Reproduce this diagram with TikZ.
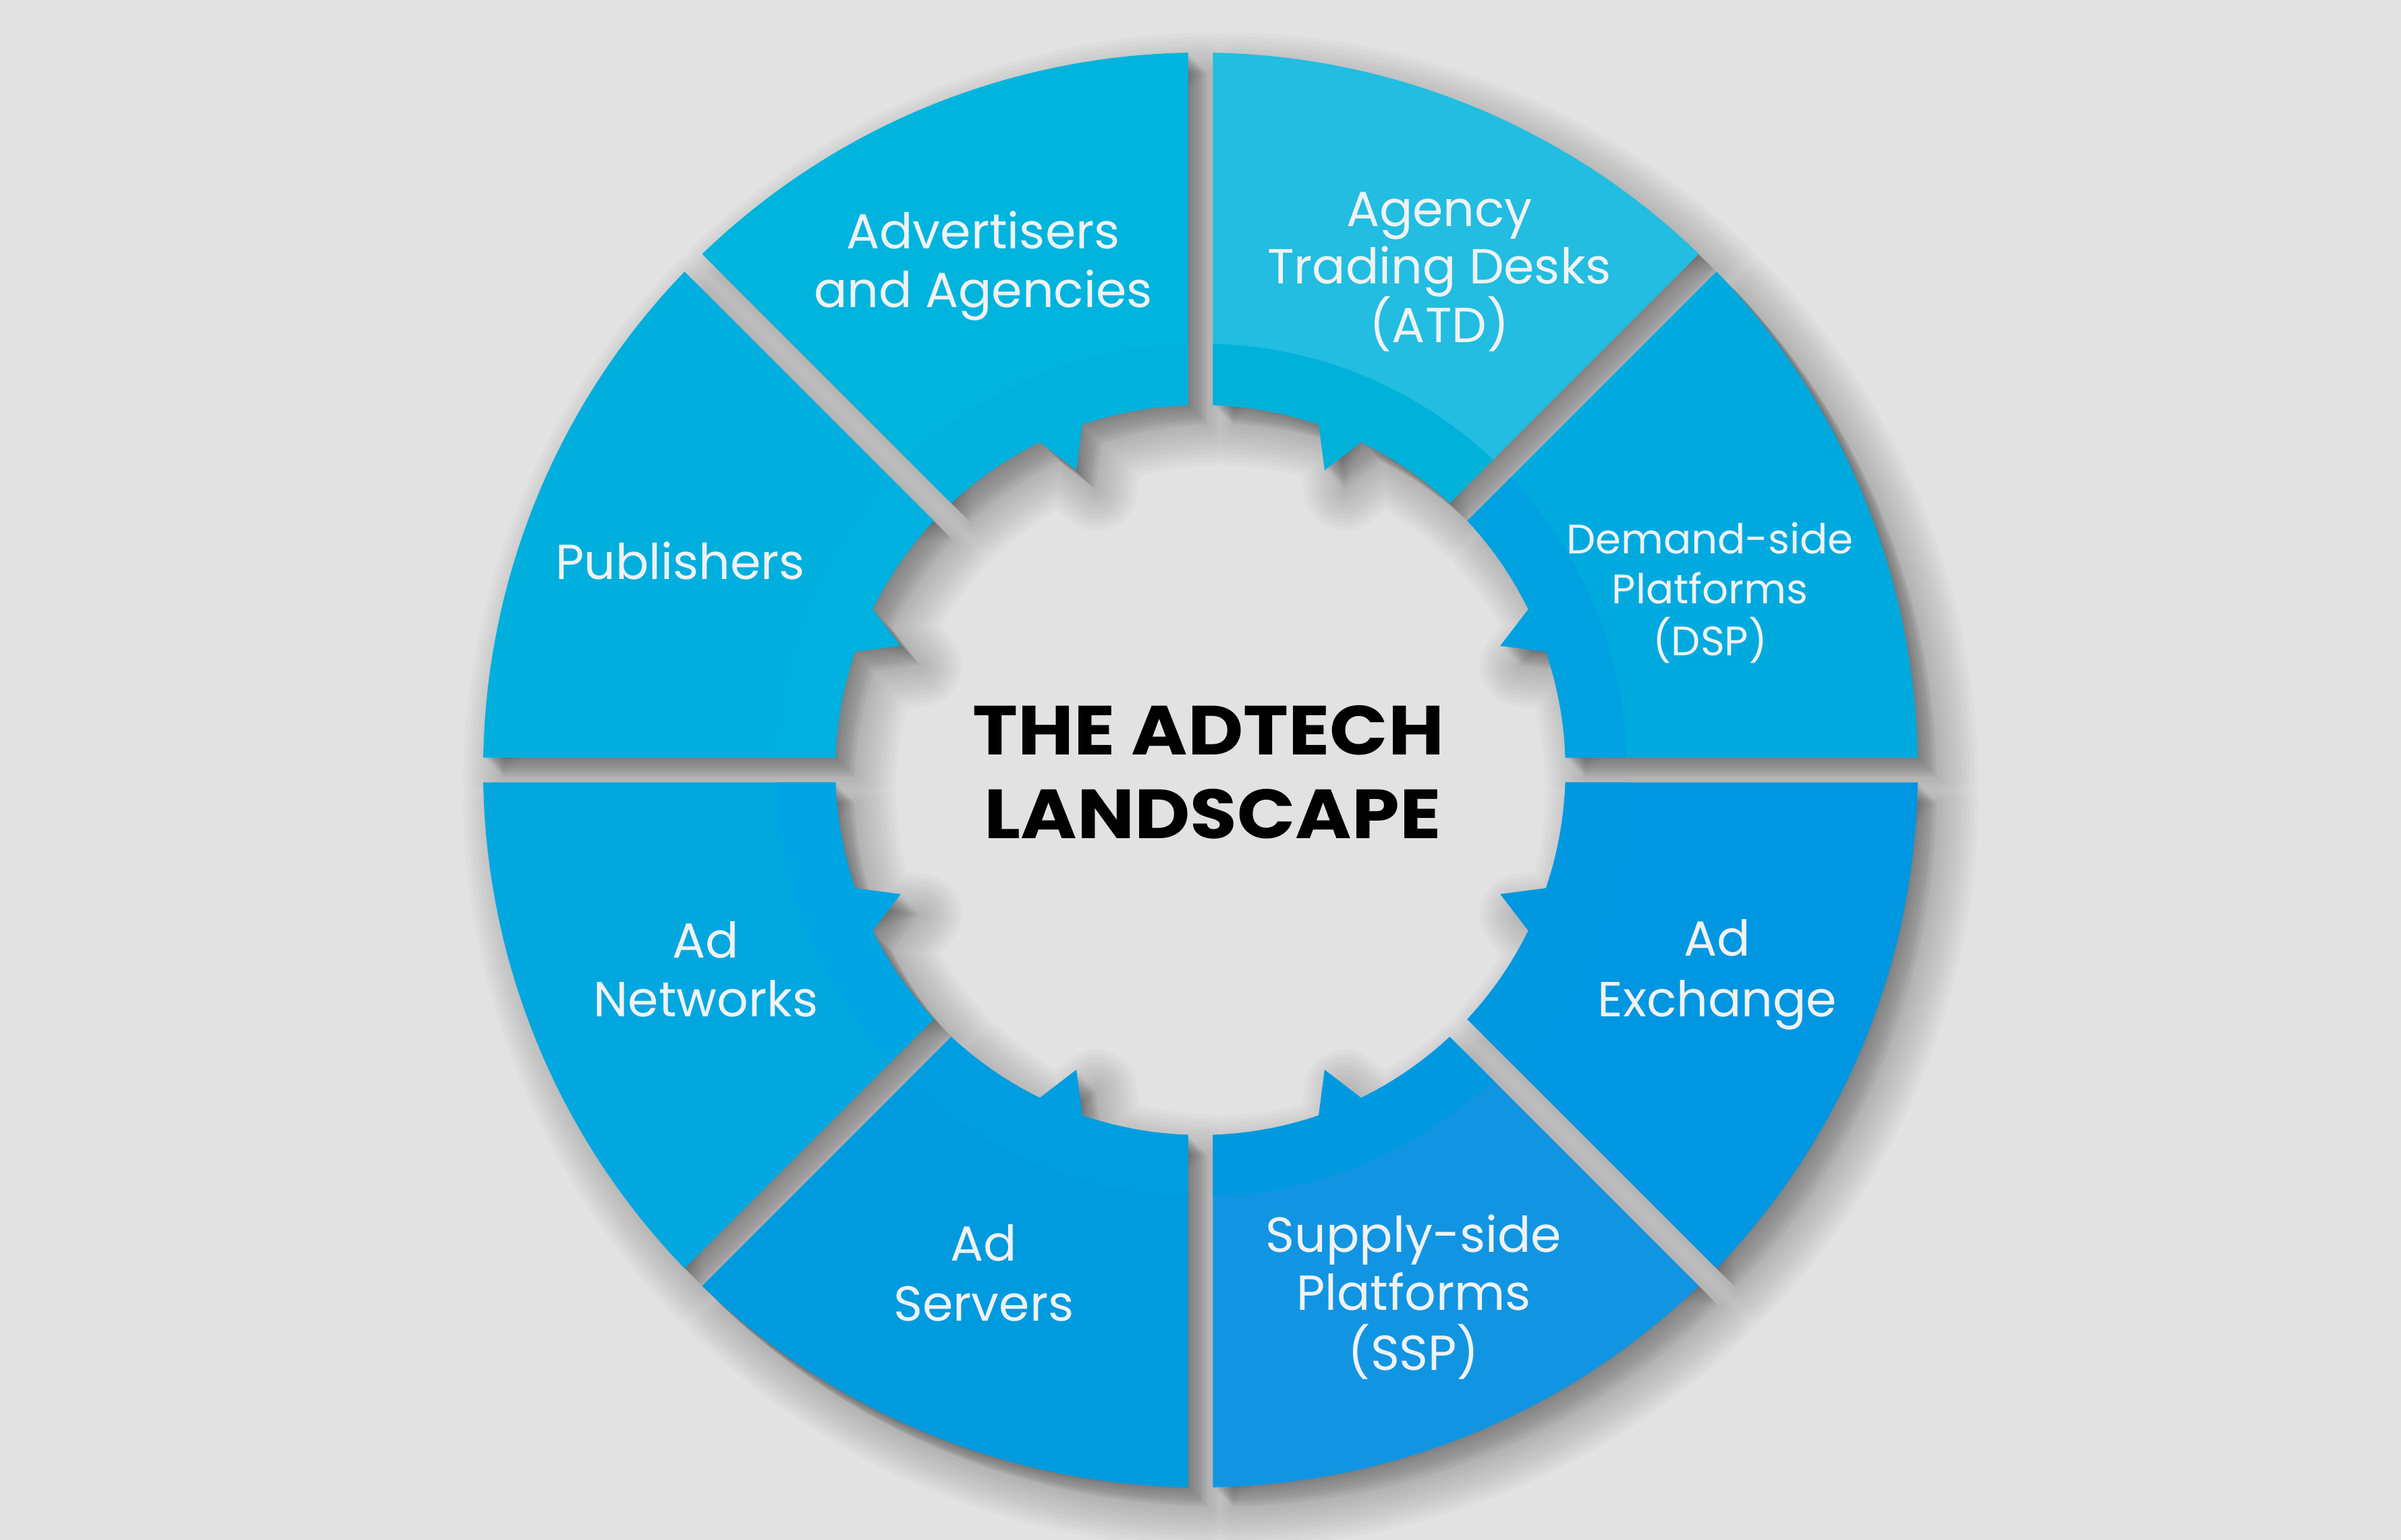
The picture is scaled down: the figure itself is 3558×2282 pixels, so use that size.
\documentclass[tikz,border=0pt]{standalone}
\usepackage{fontspec}
\setmainfont{Poppins}
\newfontfamily\ttlfont[FakeStretch=1.1]{Poppins}
\definecolor{bg}{HTML}{E2E2E2}
\definecolor{labc}{HTML}{F0F2F3}
\definecolor{cAdv}{HTML}{00B4DE}\definecolor{bAdv}{HTML}{00B1DE}
\definecolor{cAtd}{HTML}{22BDE0}\definecolor{bAtd}{HTML}{00B1D9}
\definecolor{cDsp}{HTML}{00AADF}\definecolor{bDsp}{HTML}{00A1E0}
\definecolor{cExc}{HTML}{0096E1}\definecolor{bExc}{HTML}{0098E1}
\definecolor{cSsp}{HTML}{1195E2}\definecolor{bSsp}{HTML}{0099E0}
\definecolor{cSrv}{HTML}{009ADF}\definecolor{bSrv}{HTML}{009DE0}
\definecolor{cNet}{HTML}{02A7DF}\definecolor{bNet}{HTML}{00A5E3}
\definecolor{cPub}{HTML}{00AFDD}\definecolor{bPub}{HTML}{00B0DE}
% one ring sector between angles #1 and #2, with its inner tooth
\newcommand\secpath[2]{({#1+1.96}:541) -- ({#1+0.997}:1063)
  arc[start angle={#1+0.997}, end angle={#2-0.997}, radius=1063]
  -- ({#2-1.96}:541)
  arc[start angle={#2-1.96}, end angle={(#1+#2)/2+3.6}, radius=541]
  -- ({(#1+#2)/2}:481) -- ({(#1+#2)/2-3.6}:541)
  arc[start angle={(#1+#2)/2-3.6}, end angle={#1+1.96}, radius=541] -- cycle}
\newcommand\allsec{\secpath{0}{45} \secpath{45}{90} \secpath{90}{135}
  \secpath{135}{180} \secpath{180}{225} \secpath{225}{270}
  \secpath{270}{315} \secpath{315}{360}}
\newcommand\ringsector[4]{%
  \begin{scope}
    \clip \secpath{#1}{#2};
    \fill[#3] (0,0) circle[radius=1100];
    \fill[#4] (0,0) circle[radius=632];
  \end{scope}}
\tikzset{
  lab/.style={font=\fontsize{73}{87}\selectfont, text=labc, anchor=base, inner sep=0pt},
  labs/.style={font=\fontsize{61}{76}\selectfont, text=labc, anchor=base, inner sep=0pt},
  ttl/.style={font=\ttlfont\fontsize{103}{124}\selectfont\bfseries, text=black, anchor=base, inner sep=0pt},
}
\begin{document}
\begin{tikzpicture}[x=1pt,y=1pt]
\useasboundingbox (-1779,-1141) rectangle (1779,1141);
\fill[bg] (-1779,-1141) rectangle (1779,1141);
% soft drop shadow (down-right)
\foreach \j in {1,...,25}{
  \fill[black, opacity=0.016, shift={(1.2*\j,-1.2*\j)}] \allsec;
}
\foreach \w in {6,12,...,60}{
  \draw[black, opacity=0.02, line width=2*\w, line join=round, shift={(30,-30)}] \allsec;
}
% sectors
\ringsector{0}{45}{cDsp}{bDsp}
\ringsector{45}{90}{cAtd}{bAtd}
\ringsector{90}{135}{cAdv}{bAdv}
\ringsector{135}{180}{cPub}{bPub}
\ringsector{180}{225}{cNet}{bNet}
\ringsector{225}{270}{cSrv}{bSrv}
\ringsector{270}{315}{cSsp}{bSsp}
\ringsector{315}{360}{cExc}{bExc}
% labels
\node[lab] (adv1) at (-322,772) {Advertisers};
\node[lab] (adv2) at (-322,685) {and Agencies};
\node[lab] (atd1) at (354,805.5) {Agency};
\node[lab] (atd2) at (354,720) {Trading Desks};
\node[lab] (atd3) at (354,633) {(ATD)};
\node[labs] (dsp1) at (755,320.6) {Demand-side};
\node[labs] (dsp2) at (755,246) {Platforms};
\node[labs] (dsp3) at (755,169) {(DSP)};
\node[lab] (exc1) at (766,-276) {Ad};
\node[lab] (exc2) at (766,-365.5) {Exchange};
\node[lab] (ssp1) at (316,-714) {Supply-side};
\node[lab] (ssp2) at (316,-800.8) {Platforms};
\node[lab] (ssp3) at (316,-889) {(SSP)};
\node[lab] (srv1) at (-321,-727.8) {Ad};
\node[lab] (srv2) at (-321,-816) {Servers};
\node[lab] (net1) at (-733,-278.7) {Ad};
\node[lab] (net2) at (-733,-365.5) {Networks};
\node[lab] (pub1) at (-771,282) {Publishers};
% title
\node[ttl] (t1) at (12,22) {THE ADTECH};
\node[ttl] (t2) at (18,-101.7) {LANDSCAPE};
\end{tikzpicture}
\end{document}
